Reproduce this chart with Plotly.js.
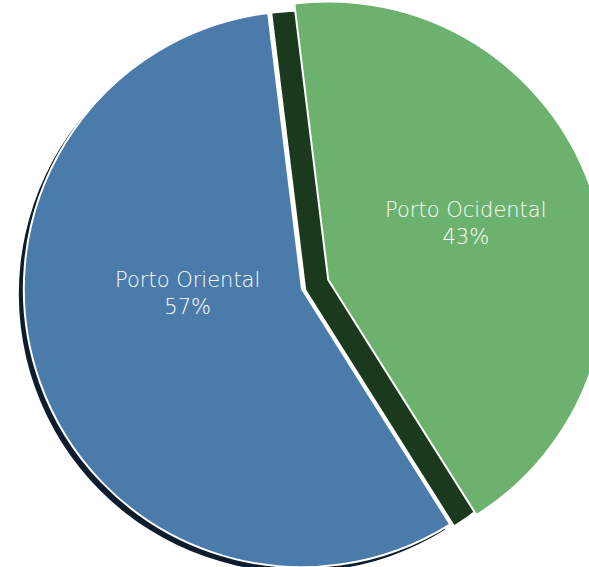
<!DOCTYPE html>
<html>
<head>
<meta charset="utf-8">
<script src="https://cdn.plot.ly/plotly-3.0.1.min.js"></script>
<style>
html, body { margin: 0; padding: 0; overflow: hidden; background: #ffffff; width: 589px; height: 567px; }
#chart { position: absolute; left: -28px; top: -17px; width: 640px; height: 640px; }
</style>
</head>
<body>
<div id="chart"></div>
<script>
// Data
const categories = ["Porto Ocidental", "Porto Oriental"];
const shares = [43, 57];
const percentLabels = ["43%", "57%"];

const mainColors = ["#6cb26e", "#4a7bab"];
const darkGreen = "#1b3a1d";
const darkNavy = "#0e1d2d";

const pulls = [0.1, 0];
const rot = -7;

// Geometry helpers (div is 640x640, placed at left -28, top -17 on the page)
const W = 640, L = -28, T = -17, S = 612, X0 = 24;
function dom(dx, dy) {
  const x0 = X0 + dx, y0 = dy;
  return {
    x: [x0 / W, (x0 + S) / W],
    y: [1 - (y0 + S) / W, 1 - y0 / W]
  };
}
function px2paper(px, py) {
  return { x: (px - L) / W, y: 1 - (py - T) / W };
}
// label anchor points on the page (pixels)
const labelPos = [[466, 223], [187, 293]];

const base = {
  type: "pie",
  labels: categories,
  values: shares,
  sort: false,
  direction: "clockwise",
  rotation: rot,
  pull: pulls,
  hoverinfo: "skip",
  showlegend: false,
  textinfo: "none"
};

const greenShadow = Object.assign({}, base, {
  domain: dom(-22, 10),
  marker: { colors: [darkGreen, "rgba(0,0,0,0)"], line: { width: 0 } }
});
const blueShadow = Object.assign({}, base, {
  domain: dom(-5, 5),
  marker: { colors: ["rgba(0,0,0,0)", darkNavy], line: { width: 0 } }
});
const mainPie = Object.assign({}, base, {
  domain: dom(0, 0),
  marker: { colors: mainColors, line: { color: "#ffffff", width: 2 } }
});

const annotations = categories.map((c, i) => {
  const p = px2paper(labelPos[i][0], labelPos[i][1]);
  return {
    xref: "paper", yref: "paper", x: p.x, y: p.y,
    xanchor: "center", yanchor: "middle",
    text: c + "<br>" + percentLabels[i],
    showarrow: false,
    align: "center",
    font: { family: "'DejaVu Sans', sans-serif", size: 21, color: "#ffffff", weight: 200 }
  };
});

const layout = {
  width: 640,
  height: 640,
  margin: { l: 0, r: 0, t: 0, b: 0 },
  paper_bgcolor: "rgba(0,0,0,0)",
  plot_bgcolor: "rgba(0,0,0,0)",
  showlegend: false,
  annotations: annotations
};

Plotly.newPlot("chart", [greenShadow, blueShadow, mainPie], layout, { displayModeBar: false, staticPlot: true });
</script>
</body>
</html>
